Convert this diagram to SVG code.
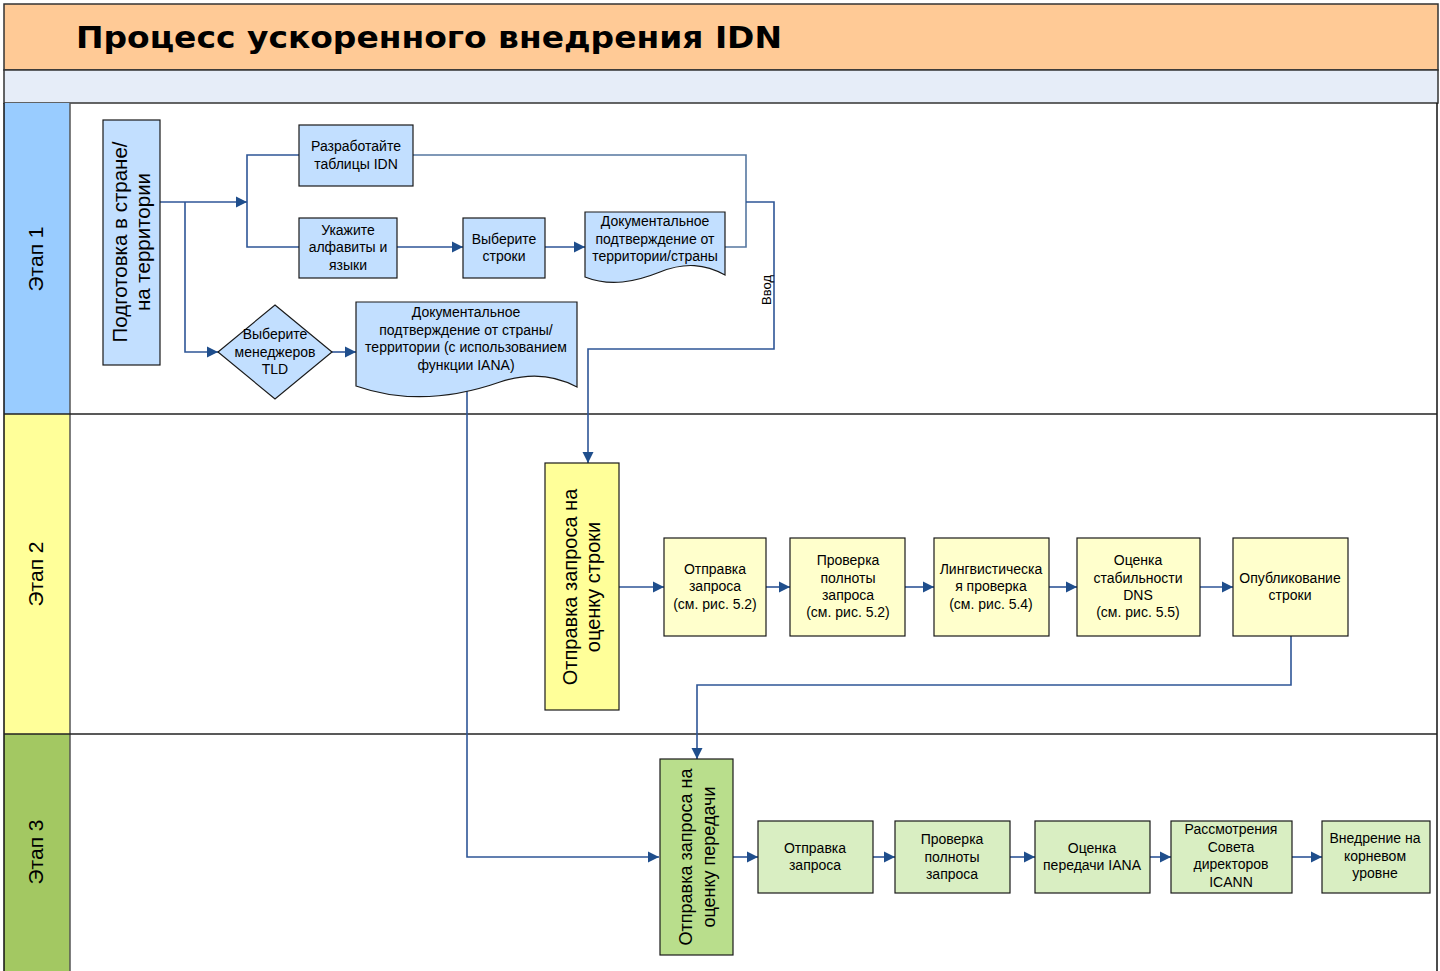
<svg xmlns="http://www.w3.org/2000/svg" width="1440" height="971" viewBox="0 0 1440 971">
<style>
.t{font-family:"Liberation Sans",Arial,sans-serif;font-size:14px;fill:#000;text-anchor:middle}
.tr{font-family:"Liberation Sans",Arial,sans-serif;fill:#000;text-anchor:middle}
.lane{font-family:"Liberation Sans",Arial,sans-serif;font-size:21px;fill:#000;text-anchor:middle}
.b1{fill:#C2DFFF;stroke:#1a1a1a;stroke-width:1.2}
.b2{fill:#FFFFCC;stroke:#1a1a1a;stroke-width:1.2}
.b3{fill:#D9EEC2;stroke:#1a1a1a;stroke-width:1.2}
.c{fill:none;stroke:#2E5597;stroke-width:1.6}
.cg{fill:none;stroke:#5577A0;stroke-width:1.6}
.a{marker-end:url(#ar)}
</style>
<defs>
<marker id="ar" viewBox="0 0 10 10" refX="10" refY="5" markerWidth="7" markerHeight="7" markerUnits="strokeWidth" orient="auto">
<path d="M0,0 L10,5 L0,10 Z" fill="#1F4E8C"/>
</marker>
</defs>
<rect x="0" y="0" width="1440" height="971" fill="#fff"/>
<g id="header">
<rect x="4" y="4" width="1434" height="66" fill="#FFCA96" stroke="#333" stroke-width="1.5"/>
<text x="76" y="48" font-family="DejaVu Sans,Verdana,sans-serif" font-weight="bold" font-size="30" textLength="706" lengthAdjust="spacingAndGlyphs">Процесс ускоренного внедрения IDN</text>
<rect x="4" y="70" width="1434" height="33" fill="#E6EDF8" stroke="#333" stroke-width="1.5"/>
</g>
<g id="lanes">
<rect x="4" y="103" width="66" height="311" fill="#99CCFF"/>
<rect x="4" y="414" width="66" height="320" fill="#FFFF99"/>
<rect x="4" y="734" width="66" height="240" fill="#A3C862"/>
<line x1="4" y1="103" x2="4" y2="971" stroke="#111" stroke-width="1.5"/>
<line x1="70" y1="103" x2="70" y2="971" stroke="#555" stroke-width="1.5"/>
<line x1="1437" y1="103" x2="1437" y2="971" stroke="#111" stroke-width="1.5"/>
<line x1="4" y1="414" x2="1437" y2="414" stroke="#222" stroke-width="1.5"/>
<line x1="4" y1="734" x2="1437" y2="734" stroke="#222" stroke-width="1.5"/>
<text class="lane" transform="translate(36,259) rotate(-90)" y="7">Этап 1</text>
<text class="lane" transform="translate(36,574) rotate(-90)" y="7">Этап 2</text>
<text class="lane" transform="translate(36,852) rotate(-90)" y="7">Этап 3</text>
</g>
<g id="connectors">
<polyline class="c a" points="160,202 247,202"/>
<polyline class="c" points="299,155 247,155 247,247 299,247"/>
<polyline class="c a" points="185,202 185,352 218,352"/>
<polyline class="c a" points="332,352 356,352"/>
<polyline class="c a" points="397,247 463,247"/>
<polyline class="c a" points="545,247 585,247"/>
<polyline class="cg" points="413,155 746,155 746,247 725,247"/>
<polyline class="c a" points="746,202 774,202 774,349 588,349 588,463"/>
<text class="tr" style="font-size:13px" transform="translate(766,290) rotate(-90)" y="5">Ввод</text>
<polyline class="c a" points="467,390 467,857 659,857"/>
<polyline class="c a" points="619,587 664,587"/>
<polyline class="c a" points="766,587 790,587"/>
<polyline class="c a" points="905,587 934,587"/>
<polyline class="c a" points="1049,587 1077,587"/>
<polyline class="c a" points="1200,587 1233,587"/>
<polyline class="c a" points="1291,636 1291,685 697,685 697,759"/>
<polyline class="c a" points="733,857 758,857"/>
<polyline class="c a" points="873,857 895,857"/>
<polyline class="c a" points="1010,857 1035,857"/>
<polyline class="c a" points="1150,857 1171,857"/>
<polyline class="c a" points="1292,857 1322,857"/>
</g>
<g id="n_prep">
<rect class="b1" x="103" y="120" width="57" height="245"/>
<g transform="translate(131,242) rotate(-90)"><text class="tr" style="font-size:20.5px" y="-4">Подготовка в стране/</text><text class="tr" style="font-size:20.5px" y="19">на территории</text></g>
</g>
<g id="n_tables">
<rect class="b1" x="299" y="125" width="114" height="61"/>
<text class="t" x="356" y="151">Разработайте</text><text class="t" x="356" y="169">таблицы IDN</text>
</g>
<g id="n_alph">
<rect class="b1" x="299" y="218" width="98" height="60"/>
<text class="t" x="348" y="235">Укажите</text><text class="t" x="348" y="252">алфавиты и</text><text class="t" x="348" y="270">языки</text>
</g>
<g id="n_strings">
<rect class="b1" x="463" y="218" width="82" height="60"/>
<text class="t" x="504" y="244">Выберите</text><text class="t" x="504" y="261">строки</text>
</g>
<g id="n_doc1">
<path class="b1" d="M585,212 H725 V275 C705,264 685,262 660,272 C635,282 610,287 585,277 Z"/>
<text class="t" x="655" y="226">Документальное</text><text class="t" x="655" y="244">подтверждение от</text><text class="t" x="655" y="261">территории/страны</text>
</g>
<g id="n_tld">
<path class="b1" d="M275,305 L332,352 L275,399 L218,352 Z"/>
<text class="t" x="275" y="339">Выберите</text><text class="t" x="275" y="357">менеджеров</text><text class="t" x="275" y="374">TLD</text>
</g>
<g id="n_doc2">
<path class="b1" d="M356,302 H577 V387 C555,375 530,372 500,382 C460,396 410,405 356,386 Z"/>
<text class="t" x="466" y="317">Документальное</text><text class="t" x="466" y="335">подтверждение от страны/</text><text class="t" x="466" y="352">территории (с использованием</text><text class="t" x="466" y="370">функции IANA)</text>
</g>
<g id="n_send_string">
<rect x="545" y="463" width="74" height="247" fill="#FFFF99" stroke="#1a1a1a" stroke-width="1.2"/>
<g transform="translate(582,587) rotate(-90)"><text class="tr" style="font-size:20px" y="-5">Отправка запроса на</text><text class="tr" style="font-size:20px" y="18">оценку строки</text></g>
</g>
<g id="n_s1">
<rect class="b2" x="664" y="538" width="102" height="98"/>
<text class="t" x="715" y="574">Отправка</text><text class="t" x="715" y="591">запроса</text><text class="t" x="715" y="609">(см. рис. 5.2)</text>
</g>
<g id="n_s2">
<rect class="b2" x="790" y="538" width="115" height="98"/>
<text class="t" x="848" y="565">Проверка</text><text class="t" x="848" y="583">полноты</text><text class="t" x="848" y="600">запроса</text><text class="t" x="848" y="617">(см. рис. 5.2)</text>
</g>
<g id="n_s3">
<rect class="b2" x="934" y="538" width="115" height="98"/>
<text class="t" x="991" y="574">Лингвистическа</text><text class="t" x="991" y="591">я проверка</text><text class="t" x="991" y="609">(см. рис. 5.4)</text>
</g>
<g id="n_s4">
<rect class="b2" x="1077" y="538" width="123" height="98"/>
<text class="t" x="1138" y="565">Оценка</text><text class="t" x="1138" y="583">стабильности</text><text class="t" x="1138" y="600">DNS</text><text class="t" x="1138" y="617">(см. рис. 5.5)</text>
</g>
<g id="n_s5">
<rect class="b2" x="1233" y="538" width="115" height="98"/>
<text class="t" x="1290" y="583">Опубликование</text><text class="t" x="1290" y="600">строки</text>
</g>
<g id="n_send_deleg">
<rect x="660" y="759" width="73" height="196" fill="#B9DE8C" stroke="#1a1a1a" stroke-width="1.2"/>
<g transform="translate(697,857) rotate(-90)"><text class="tr" style="font-size:18px" y="-5">Отправка запроса на</text><text class="tr" style="font-size:18px" y="18">оценку передачи</text></g>
</g>
<g id="n_d1">
<rect class="b3" x="758" y="821" width="115" height="72"/>
<text class="t" x="815" y="853">Отправка</text><text class="t" x="815" y="870">запроса</text>
</g>
<g id="n_d2">
<rect class="b3" x="895" y="821" width="115" height="72"/>
<text class="t" x="952" y="844">Проверка</text><text class="t" x="952" y="862">полноты</text><text class="t" x="952" y="879">запроса</text>
</g>
<g id="n_d3">
<rect class="b3" x="1035" y="821" width="115" height="72"/>
<text class="t" x="1092" y="853">Оценка</text><text class="t" x="1092" y="870">передачи IANA</text>
</g>
<g id="n_d4">
<rect class="b3" x="1171" y="821" width="121" height="72"/>
<text class="t" x="1231" y="834">Рассмотрения</text><text class="t" x="1231" y="852">Совета</text><text class="t" x="1231" y="869">директоров</text><text class="t" x="1231" y="887">ICANN</text>
</g>
<g id="n_d5">
<rect class="b3" x="1322" y="821" width="108" height="72"/>
<text class="t" x="1375" y="843">Внедрение на</text><text class="t" x="1375" y="861">корневом</text><text class="t" x="1375" y="878">уровне</text>
</g>
</svg>
